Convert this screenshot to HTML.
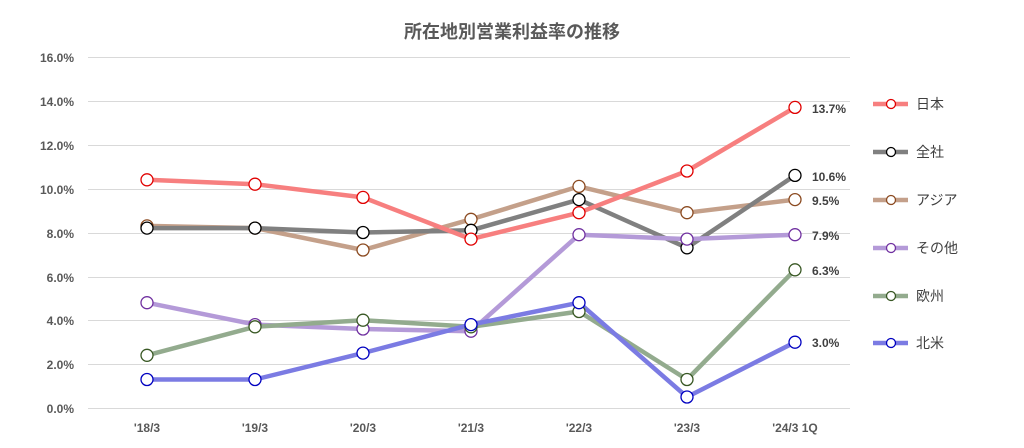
<!DOCTYPE html>
<html><head><meta charset="utf-8"><style>body{margin:0;background:#fff}svg{display:block}text{font-family:"Liberation Sans","Noto Sans CJK JP",sans-serif}</style></head>
<body>
<svg width="1024" height="448" viewBox="0 0 1024 448">
<text x="512" y="38" text-anchor="middle" font-size="18" font-weight="bold" fill="#595959">所在地別営業利益率の推移</text>
<g stroke="#d9d9d9" stroke-width="1">
<line x1="88" x2="850" y1="57.5" y2="57.5"/><line x1="88" x2="850" y1="101.5" y2="101.5"/><line x1="88" x2="850" y1="145.5" y2="145.5"/><line x1="88" x2="850" y1="189.5" y2="189.5"/><line x1="88" x2="850" y1="233.5" y2="233.5"/><line x1="88" x2="850" y1="277.5" y2="277.5"/><line x1="88" x2="850" y1="320.5" y2="320.5"/><line x1="88" x2="850" y1="364.5" y2="364.5"/><line x1="88" x2="850" y1="408.5" y2="408.5"/>
</g>
<g font-size="12" font-weight="bold" fill="#595959" text-anchor="end">
<text x="74" y="62">16.0%</text><text x="74" y="106">14.0%</text><text x="74" y="150">12.0%</text><text x="74" y="194">10.0%</text><text x="74" y="238">8.0%</text><text x="74" y="282">6.0%</text><text x="74" y="325">4.0%</text><text x="74" y="369">2.0%</text><text x="74" y="413">0.0%</text>
</g>
<g font-size="12" font-weight="bold" fill="#595959" text-anchor="middle">
<text x="147" y="432">'18/3</text><text x="255" y="432">'19/3</text><text x="363" y="432">'20/3</text><text x="471" y="432">'21/3</text><text x="579" y="432">'22/3</text><text x="687" y="432">'23/3</text><text x="795" y="432">'24/3 1Q</text>
</g>
<g fill="none" stroke-width="4.5" stroke-linejoin="round">
<polyline stroke="#c4a08a" points="147,225.9 255,228.1 363,250 471,219.3 579,186.4 687,212.7 795,199.6"/>
<polyline stroke="#808080" points="147,228.1 255,228.1 363,232.5 471,230.3 579,199.6 687,247.8 795,175.4"/>
<polyline stroke="#b49ad8" points="147,302.7 255,324.6 363,329 471,331.2 579,234.7 687,239.1 795,234.7"/>
<polyline stroke="#93ab8e" points="147,355.3 255,326.8 363,320.2 471,326.8 579,311.5 687,379.5 795,269.8"/>
<polyline stroke="#7b7be3" points="147,379.5 255,379.5 363,353.1 471,324.6 579,302.7 687,397 795,342.2"/>
<polyline stroke="#f77f7f" points="147,179.8 255,184.2 363,197.4 471,239.1 579,212.7 687,171 795,107.4"/>
</g>
<g fill="#fff" stroke-width="1.3">
<g stroke="#8b4a20"><circle cx="147" cy="225.9" r="6"/><circle cx="255" cy="228.1" r="6"/><circle cx="363" cy="250" r="6"/><circle cx="471" cy="219.3" r="6"/><circle cx="579" cy="186.4" r="6"/><circle cx="687" cy="212.7" r="6"/><circle cx="795" cy="199.6" r="6"/></g>
<g stroke="#000"><circle cx="147" cy="228.1" r="6"/><circle cx="255" cy="228.1" r="6"/><circle cx="363" cy="232.5" r="6"/><circle cx="471" cy="230.3" r="6"/><circle cx="579" cy="199.6" r="6"/><circle cx="687" cy="247.8" r="6"/><circle cx="795" cy="175.4" r="6"/></g>
<g stroke="#7030a0"><circle cx="147" cy="302.7" r="6"/><circle cx="255" cy="324.6" r="6"/><circle cx="363" cy="329" r="6"/><circle cx="471" cy="331.2" r="6"/><circle cx="579" cy="234.7" r="6"/><circle cx="687" cy="239.1" r="6"/><circle cx="795" cy="234.7" r="6"/></g>
<g stroke="#385723"><circle cx="147" cy="355.3" r="6"/><circle cx="255" cy="326.8" r="6"/><circle cx="363" cy="320.2" r="6"/><circle cx="471" cy="326.8" r="6"/><circle cx="579" cy="311.5" r="6"/><circle cx="687" cy="379.5" r="6"/><circle cx="795" cy="269.8" r="6"/></g>
<g stroke="#0000c0"><circle cx="147" cy="379.5" r="6"/><circle cx="255" cy="379.5" r="6"/><circle cx="363" cy="353.1" r="6"/><circle cx="471" cy="324.6" r="6"/><circle cx="579" cy="302.7" r="6"/><circle cx="687" cy="397" r="6"/><circle cx="795" cy="342.2" r="6"/></g>
<g stroke="#e00000"><circle cx="147" cy="179.8" r="6"/><circle cx="255" cy="184.2" r="6"/><circle cx="363" cy="197.4" r="6"/><circle cx="471" cy="239.1" r="6"/><circle cx="579" cy="212.7" r="6"/><circle cx="687" cy="171" r="6"/><circle cx="795" cy="107.4" r="6"/></g>
</g>
<g font-size="12" font-weight="bold" fill="#404040">
<text x="812" y="113">13.7%</text><text x="812" y="181">10.6%</text><text x="812" y="205">9.5%</text><text x="812" y="240">7.9%</text><text x="812" y="275">6.3%</text><text x="812" y="347">3.0%</text>
</g>
<g stroke-width="4.5">
<line x1="873" x2="908" y1="104" y2="104" stroke="#f77f7f"/><line x1="873" x2="908" y1="152" y2="152" stroke="#808080"/><line x1="873" x2="908" y1="200" y2="200" stroke="#c4a08a"/><line x1="873" x2="908" y1="248" y2="248" stroke="#b49ad8"/><line x1="873" x2="908" y1="296" y2="296" stroke="#93ab8e"/><line x1="873" x2="908" y1="343" y2="343" stroke="#7b7be3"/>
</g>
<g fill="#fff" stroke-width="1.3">
<circle cx="891" cy="104" r="4.5" stroke="#e00000"/><circle cx="891" cy="152" r="4.5" stroke="#000"/><circle cx="891" cy="200" r="4.5" stroke="#8b4a20"/><circle cx="891" cy="248" r="4.5" stroke="#7030a0"/><circle cx="891" cy="296" r="4.5" stroke="#385723"/><circle cx="891" cy="343" r="4.5" stroke="#0000c0"/>
</g>
<g font-size="14" fill="#404040">
<text x="916" y="109">日本</text><text x="916" y="157">全社</text><text x="916" y="205">アジア</text><text x="916" y="253">その他</text><text x="916" y="301">欧州</text><text x="916" y="348">北米</text>
</g>
</svg>
</body></html>
